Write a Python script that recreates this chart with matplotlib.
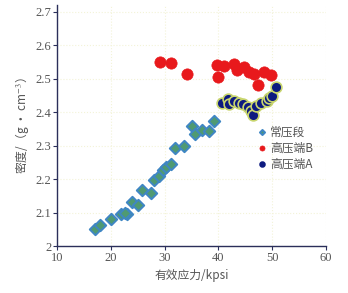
import matplotlib
matplotlib.use('Agg')
import matplotlib.pyplot as plt

# 常压段
normal_x = [17.1, 18.0, 20.0, 21.9, 23.0, 22.6, 23.9, 25.0, 25.8, 27.4, 28.0, 28.9,
            29.7, 30.3, 31.2, 32.0, 33.6, 35.0, 35.7, 37.0, 38.2, 39.2]
normal_y = [2.050, 2.063, 2.080, 2.096, 2.096, 2.100, 2.133, 2.123, 2.168, 2.160, 2.198, 2.210,
            2.226, 2.236, 2.246, 2.293, 2.298, 2.358, 2.336, 2.348, 2.343, 2.373]

# 高压端B
high_b_x = [29.1, 31.2, 34.1, 39.8, 39.9, 41.0, 42.9, 43.5, 44.8, 45.7, 46.6, 47.4, 48.4, 49.7]
high_b_y = [2.549, 2.547, 2.513, 2.541, 2.504, 2.538, 2.544, 2.526, 2.534, 2.520, 2.513, 2.480,
            2.519, 2.510]

# 高压端A
high_a_x = [40.7, 41.8, 42.0, 42.9, 43.8, 44.5, 45.4, 46.0, 46.4, 47.0, 47.9, 49.0, 49.4, 50.0, 50.7]
high_a_y = [2.428, 2.438, 2.423, 2.433, 2.428, 2.423, 2.416, 2.403, 2.392, 2.418, 2.428, 2.433,
            2.443, 2.448, 2.475]

cjk = ['Noto Sans CJK SC', 'DejaVu Sans']
plt.rcParams.update({
    'font.family': ['Liberation Serif', 'Noto Sans CJK SC', 'DejaVu Sans'],
    'mathtext.fontset': 'stix',
})

fig = plt.figure(figsize=(3.48, 2.93), dpi=100)
ax = fig.add_axes([0.164, 0.160, 0.773, 0.823])

ax.scatter(high_b_x, high_b_y, s=66, c='#e8191c', edgecolors='#e8191c', linewidths=0.5,
           zorder=3, label='高压端B')
ax.scatter(high_a_x, high_a_y, s=60, c='#0d1a80', edgecolors='#c9d66e', linewidths=1.2,
           zorder=3, label='高压端A')
ax.scatter(normal_x, normal_y, s=34, marker='D', c='#4f9a72', edgecolors='#3f86c4',
           linewidths=1.4, zorder=3, label='常压段')

ax.set_xlim(10, 60)
ax.set_ylim(2.0, 2.72)
ax.set_xticks([10, 20, 30, 40, 50, 60])
ax.set_yticks([2.0, 2.1, 2.2, 2.3, 2.4, 2.5, 2.6, 2.7])
ax.set_yticklabels(['2', '2.1', '2.2', '2.3', '2.4', '2.5', '2.6', '2.7'])

ax.grid(True, color='#f3f3d8', linestyle=':', linewidth=0.8, zorder=0)
for side in ['top', 'right']:
    ax.spines[side].set_visible(False)
for side in ['left', 'bottom']:
    ax.spines[side].set_color('#2b2f5a')
    ax.spines[side].set_linewidth(1.0)
ax.tick_params(direction='out', length=3, width=0.8, color='#2b2f5a',
               labelsize=9, labelcolor='#555555', pad=1)

ax.set_xlabel('有效应力/kpsi', fontsize=8.5, color='#555555', family=cjk, labelpad=4)
ax.set_ylabel('密度/（g • cm$^{-3}$）', fontsize=8.5, color='#555555', family=cjk, labelpad=3)

handles, labels = ax.get_legend_handles_labels()
order = [2, 0, 1]
leg = ax.legend([handles[i] for i in order], [labels[i] for i in order],
                loc='upper left', bbox_to_anchor=(0.70, 0.52), frameon=False,
                markerscale=0.45, handletextpad=-0.3, labelspacing=0.25,
                prop={'family': cjk, 'size': 8.5}, borderaxespad=0)
for t in leg.get_texts():
    t.set_color('#555555')
leg.legend_handles[2].set_edgecolor('#0d1a80')

fig.savefig('out.png', dpi=100)
